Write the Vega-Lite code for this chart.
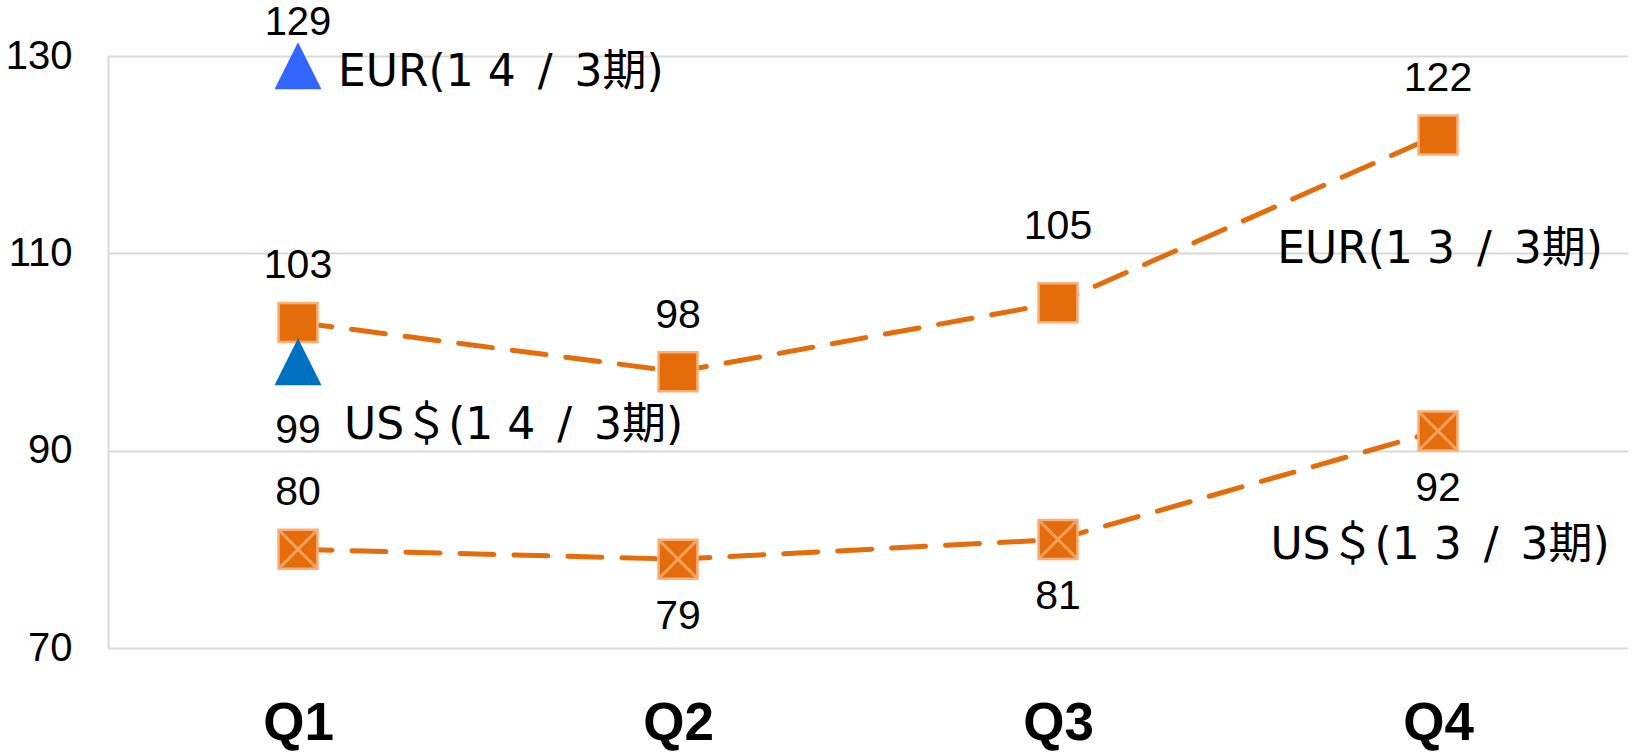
{
  "$schema": "https://vega.github.io/schema/vega-lite/v6.json",
  "autosize": "none",
  "width": 1520,
  "height": 592,
  "padding": {"left": 108, "top": 56, "right": 8, "bottom": 104},
  "background": "white",
  "config": {
    "view": {"stroke": null},
    "axisX": {"title": null, "labelFont": "Liberation Sans", "labelFontWeight": "bold", "labelFontSize": 53, "labelColor": "#000000", "domain": false, "ticks": false, "grid": false, "labelPadding": 75, "labelBaseline": "middle", "labelAngle": 0},
    "axisY": {"title": null, "labelFont": "Liberation Sans Narrow, Liberation Sans", "labelFontSize": 40, "labelColor": "#000000", "labelPadding": 36, "ticks": false, "domainColor": "#D9D9D9", "domainWidth": 2, "gridColor": "#D9D9D9", "gridWidth": 2, "labelBaseline": "middle"}
  },
  "data": {"values": [
    {"q": "Q1", "currency": "EUR", "period": "13", "series": "EUR(1 3\u2002/\u20023期)", "value": 103},
    {"q": "Q2", "currency": "EUR", "period": "13", "series": "EUR(1 3\u2002/\u20023期)", "value": 98},
    {"q": "Q3", "currency": "EUR", "period": "13", "series": "EUR(1 3\u2002/\u20023期)", "value": 105},
    {"q": "Q4", "currency": "EUR", "period": "13", "series": "EUR(1 3\u2002/\u20023期)", "value": 122},
    {"q": "Q1", "currency": "USD", "period": "13", "series": "US＄(1 3\u2002/\u20023期)", "value": 80},
    {"q": "Q2", "currency": "USD", "period": "13", "series": "US＄(1 3\u2002/\u20023期)", "value": 79},
    {"q": "Q3", "currency": "USD", "period": "13", "series": "US＄(1 3\u2002/\u20023期)", "value": 81},
    {"q": "Q4", "currency": "USD", "period": "13", "series": "US＄(1 3\u2002/\u20023期)", "value": 92},
    {"q": "Q1", "currency": "EUR", "period": "14", "series": "EUR(1 4\u2002/\u20023期)", "value": 129},
    {"q": "Q1", "currency": "USD", "period": "14", "series": "US＄(1 4\u2002/\u20023期)", "value": 99}
  ]},
  "encoding": {
    "x": {"field": "q", "type": "ordinal", "scale": {"type": "point", "padding": 0.5, "domain": ["Q1", "Q2", "Q3", "Q4"]}, "axis": {}},
    "y": {"field": "value", "type": "quantitative", "scale": {"domain": [70, 130], "nice": false, "zero": false}, "axis": {"values": [70, 90, 110, 130]}}
  },
  "layer": [
    {
      "transform": [{"filter": "datum.period == '13'"}],
      "mark": {"type": "line", "strokeDash": [34, 20], "strokeWidth": 5, "strokeCap": "round", "color": "#E46C0A"},
      "encoding": {"detail": {"field": "series"}}
    },
    {
      "transform": [{"filter": "datum.period == '13'"}],
      "mark": {"type": "point", "shape": "square", "filled": true, "size": 1521, "fill": "#E46C0A", "stroke": "#F9B07A", "strokeWidth": 2.5, "opacity": 1}
    },
    {
      "transform": [{"filter": "datum.period == '13' && datum.currency == 'USD'"}],
      "mark": {"type": "point", "shape": "M-1,-1L1,1M1,-1L-1,1", "filled": false, "size": 1300, "stroke": "#F6A868", "strokeWidth": 3, "opacity": 0.9}
    },
    {
      "transform": [{"filter": "datum.period == '14'"}],
      "mark": {"type": "point", "shape": "M0,-1L1,1L-1,1Z", "filled": true, "size": 2209, "opacity": 1},
      "encoding": {"fill": {"field": "currency", "type": "nominal", "scale": {"domain": ["EUR", "USD"], "range": ["#3366FF", "#0070C0"]}, "legend": null}}
    },
    {
      "transform": [{"filter": "(datum.period == '13' && datum.currency == 'EUR' && datum.q != 'Q3') || (datum.period == '13' && datum.currency == 'USD' && datum.q == 'Q1')"}],
      "mark": {"type": "text", "font": "Liberation Sans Narrow, Liberation Sans", "fontSize": 41, "color": "#000000", "dy": -56, "baseline": "middle"},
      "encoding": {"text": {"field": "value", "type": "quantitative", "format": "d"}}
    },
    {
      "transform": [{"filter": "datum.period == '13' && datum.currency == 'EUR' && datum.q == 'Q3'"}],
      "mark": {"type": "text", "font": "Liberation Sans Narrow, Liberation Sans", "fontSize": 41, "color": "#000000", "dy": -76, "baseline": "middle"},
      "encoding": {"text": {"field": "value", "type": "quantitative", "format": "d"}}
    },
    {
      "transform": [{"filter": "datum.period == '14' && datum.currency == 'EUR'"}],
      "mark": {"type": "text", "font": "Liberation Sans Narrow, Liberation Sans", "fontSize": 40, "color": "#000000", "dy": -43, "baseline": "middle"},
      "encoding": {"text": {"field": "value", "type": "quantitative", "format": "d"}}
    },
    {
      "transform": [{"filter": "datum.period == '13' && datum.currency == 'USD' && datum.q != 'Q1'"}],
      "mark": {"type": "text", "font": "Liberation Sans Narrow, Liberation Sans", "fontSize": 41, "color": "#000000", "dy": 58, "baseline": "middle"},
      "encoding": {"text": {"field": "value", "type": "quantitative", "format": "d"}}
    },
    {
      "transform": [{"filter": "datum.period == '14' && datum.currency == 'USD'"}],
      "mark": {"type": "text", "font": "Liberation Sans Narrow, Liberation Sans", "fontSize": 41, "color": "#000000", "dy": 69, "baseline": "middle"},
      "encoding": {"text": {"field": "value", "type": "quantitative", "format": "d"}}
    },
    {
      "transform": [{"filter": "datum.period == '14' && datum.currency == 'EUR'"}],
      "mark": {"type": "text", "font": "DejaVu Sans, Noto Sans CJK JP", "fontSize": 44, "color": "#000000", "dx": 40, "dy": 7, "align": "left", "baseline": "middle"},
      "encoding": {"text": {"field": "series"}}
    },
    {
      "transform": [{"filter": "datum.period == '14' && datum.currency == 'USD'"}],
      "mark": {"type": "text", "font": "DejaVu Sans, Noto Sans CJK JP", "fontSize": 44, "color": "#000000", "dx": 46, "dy": 64, "align": "left", "baseline": "middle"},
      "encoding": {"text": {"field": "series"}}
    },
    {
      "transform": [{"filter": "datum.period == '13' && datum.q == 'Q4'"}],
      "mark": {"type": "text", "font": "DejaVu Sans, Noto Sans CJK JP", "fontSize": 44, "color": "#000000", "dx": 2, "dy": 115, "align": "center", "baseline": "middle"},
      "encoding": {"text": {"field": "series"}}
    }
  ]
}
